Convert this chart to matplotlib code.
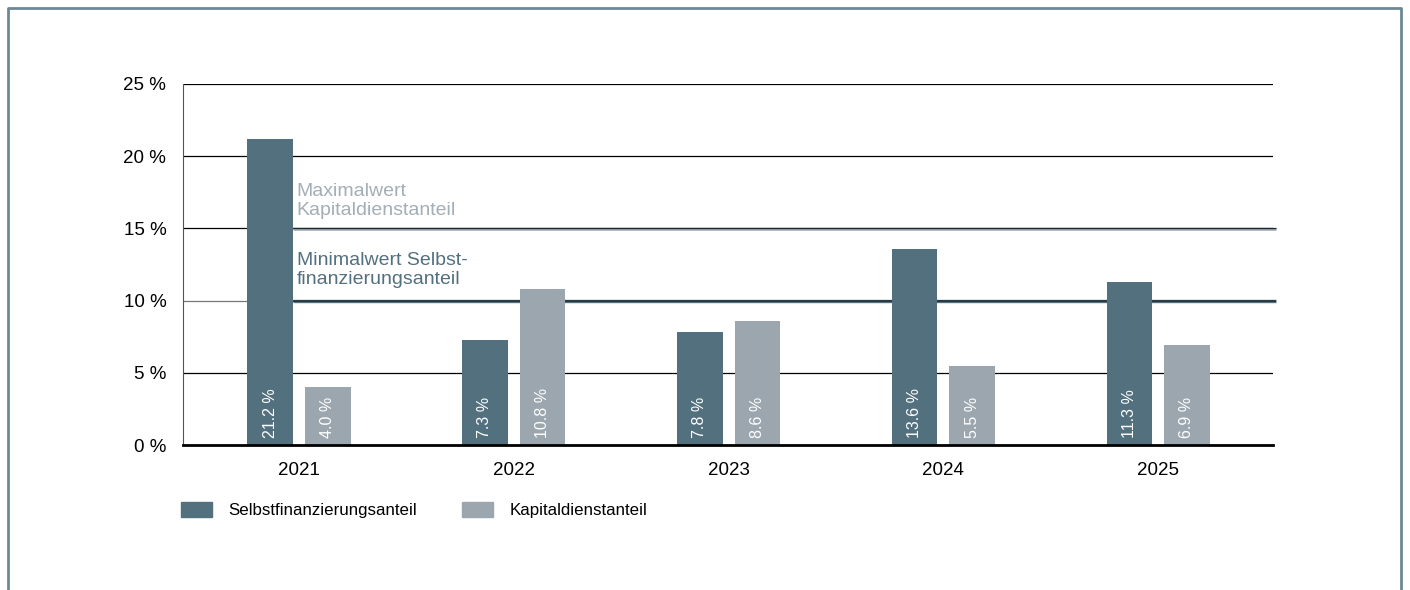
import numpy as np
import matplotlib
matplotlib.use("Agg")
import matplotlib.pyplot as plt
from matplotlib.lines import Line2D
from matplotlib.patches import Patch

plt.rcParams["font.family"] = ["Liberation Sans", "DejaVu Sans"]

years = ["2021", "2022", "2023", "2024", "2025"]
selbst = [21.2, 7.3, 7.8, 13.6, 11.3]
kapital = [4.0, 10.8, 8.6, 5.5, 6.9]
y_ticks = [0, 5, 10, 15, 20, 25]
max_kapital = 15
min_selbst = 10

dark = "#53707f"
light = "#9ba6af"
frame_col = "#6e8797"

fig = plt.figure(figsize=(14.1, 5.9), dpi=100)
ax = fig.add_axes([183 / 1410, 1 - 445 / 590, 1090 / 1410, 361 / 590])

x = np.arange(len(years))
w = 0.212
off = 0.134

# grid lines
for t in y_ticks[1:]:
    ax.axhline(t, color="#777777" if t == min_selbst else "black", lw=0.9, zorder=1)

# reference lines, starting right of the first bar
x0 = -off + w / 2
x1 = 4.549
ax.hlines(max_kapital - 0.07, x0, x1, color=light, lw=1.8, zorder=1.5, clip_on=False)
ax.hlines(max_kapital + 0.02, x0, x1, color="#1c2a33", lw=0.9, zorder=1.6, clip_on=False)
ax.hlines(min_selbst, x0, x1, color=dark, lw=2.4, zorder=1.5, clip_on=False)
ax.hlines(min_selbst, x0, x1, color="#1c2a33", lw=1.1, zorder=1.6, clip_on=False)

ax.bar(x - off, selbst, w, color=dark, zorder=3)
ax.bar(x + off, kapital, w, color=light, zorder=3)

for xi, v in zip(x - off, selbst):
    ax.text(xi, 0.5, f"{v:.1f} %", rotation=90, ha="center", va="bottom",
            color="white", fontsize=11.5, zorder=4)
for xi, v in zip(x + off, kapital):
    ax.text(xi, 0.5, f"{v:.1f} %", rotation=90, ha="center", va="bottom",
            color="white", fontsize=11.5, zorder=4)

ax.text(-0.01, 15.93, "Maximalwert\nKapitaldienstanteil", color="#a3aeb6",
        fontsize=14, va="baseline", ha="left", linespacing=1.18, zorder=4)
ax.text(-0.01, 11.13, "Minimalwert Selbst-\nfinanzierungsanteil", color=dark,
        fontsize=14, va="baseline", ha="left", linespacing=1.18, zorder=4)

ax.set_xlim(-0.54, 4.535)
ax.set_ylim(0, 25)
ax.set_xticks(x)
ax.set_xticklabels(years, fontsize=13.5)
ax.set_yticks(y_ticks)
ax.set_yticklabels([f"{t} %" for t in y_ticks], fontsize=13.5)
ax.tick_params(length=0)
ax.tick_params(axis="y", pad=12)
ax.tick_params(axis="x", pad=12.5)

for s in ["top", "right"]:
    ax.spines[s].set_visible(False)
ax.spines["left"].set_color("#555555")
ax.spines["left"].set_linewidth(0.8)
ax.spines["bottom"].set_color("black")
ax.spines["bottom"].set_linewidth(2)
ax.spines["bottom"].set_zorder(5)

handles = [Patch(color=dark, label="Selbstfinanzierungsanteil"),
           Patch(color=light, label="Kapitaldienstanteil")]
fig.legend(handles=handles, loc="upper left", bbox_to_anchor=(181 / 1410, 1 - 502 / 590),
           ncol=2, frameon=False, fontsize=12.2, handlelength=1.85, handleheight=0.95,
           handletextpad=0.95, columnspacing=2.65, borderpad=0, borderaxespad=0)

# outer frame
fig.add_artist(Line2D([8 / 1410, 8 / 1410, 1401 / 1410, 1401 / 1410],
                      [0, 1 - 8 / 590, 1 - 8 / 590, 0],
                      transform=fig.transFigure, color=frame_col, lw=2))

fig.savefig("out.png", dpi=100)
